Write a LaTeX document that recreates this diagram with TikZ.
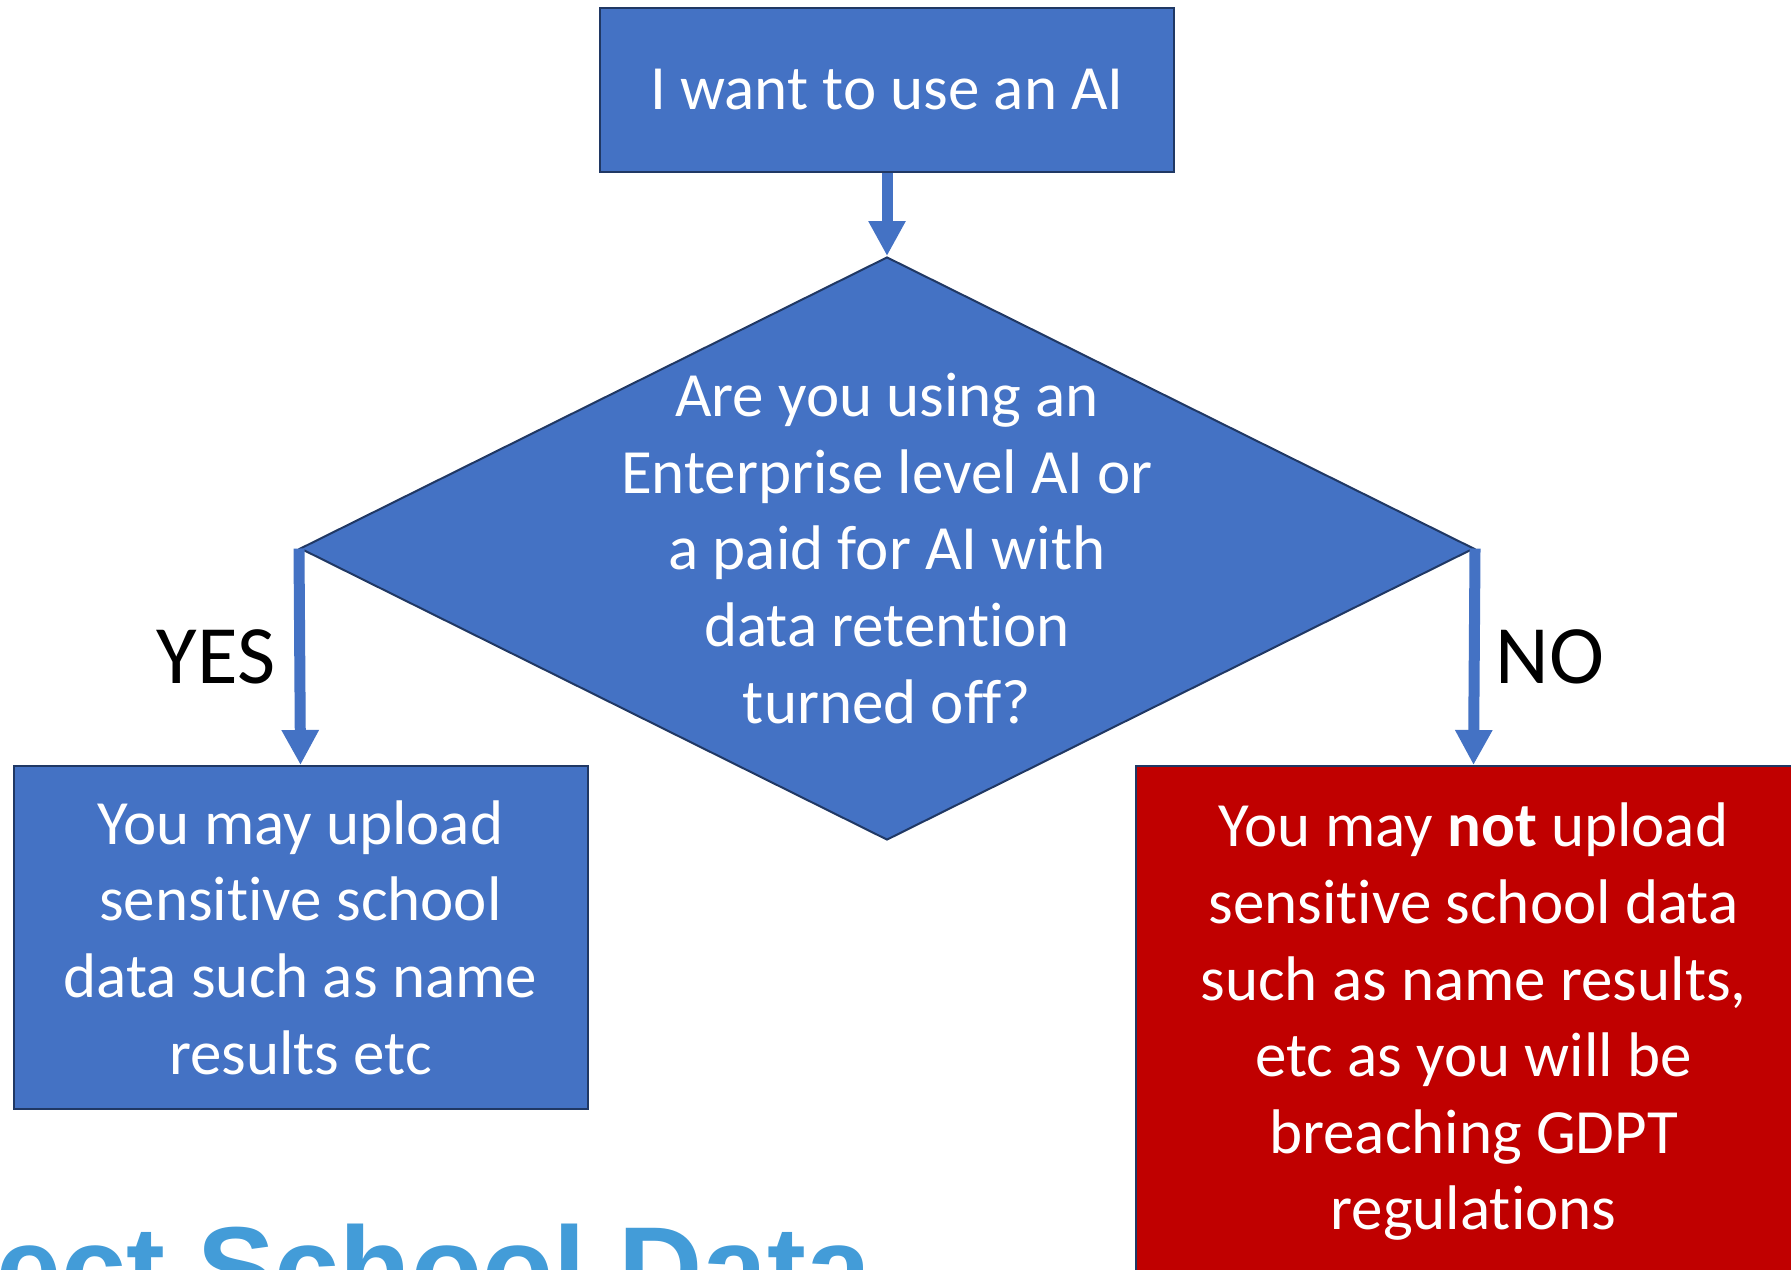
\documentclass[tikz,border=0pt]{standalone}
\usepackage{fontspec}
\setmainfont{Carlito}[Ligatures={NoCommon,NoRequired,NoContextual,NoRare}]
\newfontfamily\headfont{Liberation Sans}
\usetikzlibrary{shapes.geometric,arrows.meta}

\definecolor{aiblue}{HTML}{4472C4}
\definecolor{aiedge}{HTML}{203864}
\definecolor{aired}{HTML}{C00000}
\definecolor{headblue}{HTML}{439CD8}

% keep t and i apart (Carlito joins them)
\newcommand{\tinoj}{t\kern0pt i}

\begin{document}
\begin{tikzpicture}[x=0.5pt,y=-0.5pt,
    box/.style={draw=aiedge, line width=1pt, fill=aiblue, text=white, align=center, inner sep=0pt, font=\fontsize{31.5}{38.3}\selectfont},
    decision/.style={diamond, draw=aiedge, line width=1pt, fill=aiblue, inner sep=0pt, minimum width=587pt, minimum height=291.5pt},
    flow/.style={draw=aiblue, line width=5.5pt, -{Triangle[length=17.5pt,width=17.5pt]}},
    answer/.style={inner sep=0pt, font=\fontsize{41.5}{50}\selectfont}]

    \useasboundingbox (0,0) rectangle (1791,1269);
    \clip (0,0) rectangle (1791,1269);
    \fill[white] (0,0) rectangle (1791,1269);

    % boxes
    \node[box, minimum width=287pt, minimum height=82pt] (start) at (887,90) {I want to use an AI};
    \node[decision] (dia) at (887,548.5) {};
    \node[box, draw=none, fill=none] (question) at (dia.center) {Are you using an\\Enterprise level AI or\\a paid for AI with\\data reten\tinoj on\\turned off?};
    \node[box, minimum width=287pt, minimum height=171.5pt] (yes) at (300.5,937.5) {You may upload\\sensi\tinoj ve school\\data such as name\\results etc};
    \node[box, fill=aired, minimum width=338pt, minimum height=256pt] (no) at (1473.5,1022) {You may \textbf{not} upload\\sensi\tinoj ve school data\\such as name results,\\etc as you will be\\breaching GDPT\\regulations};

    % arrows
    \draw[flow] (start.south) -- (dia.north);
    \draw[flow] (dia.west) -- (yes.north) node[answer, midway, left=9.5pt] {YES};
    \draw[flow] (dia.east) -- (no.north) node[answer, midway, right=8pt] {NO};

    % heading, cut off by the page
    \node[anchor=base west, inner sep=0pt, text=headblue, font=\headfont\bfseries\fontsize{58.3}{70}\selectfont] (title) at (-4,1308) {ect School Data};

\end{tikzpicture}
\end{document}
